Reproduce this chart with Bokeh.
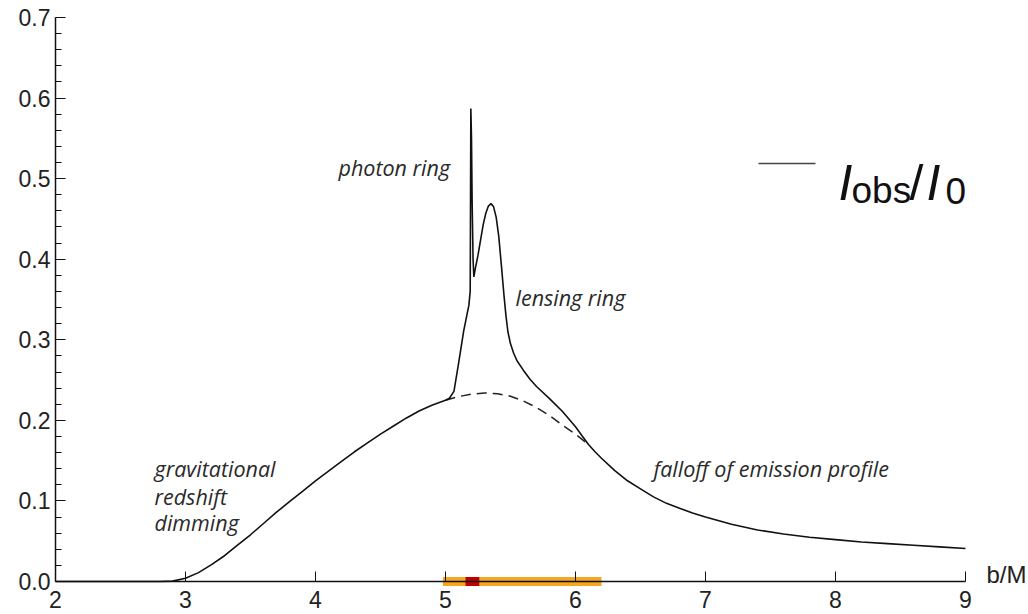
from bokeh.plotting import figure
from bokeh.models import FixedTicker, PrintfTickFormatter, Label
from bokeh.embed import file_html
from bokeh.resources import INLINE

# ---- data ----
b_solid = [2.0, 2.8, 2.9, 3.0, 3.1, 3.2, 3.3, 3.4, 3.5, 3.6, 3.7, 3.8, 3.9, 4.0,
           4.1, 4.2, 4.3, 4.4, 4.5, 4.6, 4.7, 4.8, 4.9, 5.0, 5.03, 5.065, 5.10,
           5.14, 5.18, 5.19, 5.195, 5.20, 5.205, 5.212, 5.218, 5.23, 5.25,
           5.27, 5.29, 5.31, 5.33, 5.35, 5.37, 5.39, 5.41, 5.43, 5.45, 5.465,
           5.48, 5.50, 5.525, 5.55, 5.60, 5.65, 5.70, 5.80, 5.90, 6.00, 6.05,
           6.10, 6.15, 6.2, 6.3, 6.4, 6.5, 6.6, 6.7, 6.8, 6.9, 7.0, 7.2, 7.4,
           7.6, 7.8, 8.0, 8.2, 8.4, 8.6, 8.8, 9.0]
I_solid = [0.0, 0.0, 0.0005, 0.004, 0.011, 0.021, 0.032, 0.045, 0.058, 0.072,
           0.086, 0.099, 0.112, 0.125, 0.137, 0.149, 0.161, 0.172, 0.183, 0.193,
           0.203, 0.212, 0.219, 0.225, 0.2275, 0.236, 0.270, 0.311, 0.343,
           0.36, 0.587, 0.55, 0.47, 0.40, 0.378, 0.389, 0.405, 0.424, 0.443,
           0.457, 0.466, 0.469, 0.465, 0.452, 0.428, 0.392, 0.355, 0.330,
           0.310, 0.295, 0.283, 0.274, 0.262, 0.251, 0.242, 0.227, 0.211, 0.192,
           0.181, 0.170, 0.161, 0.153, 0.138, 0.125, 0.115, 0.105, 0.097, 0.091,
           0.085, 0.080, 0.071, 0.064, 0.059, 0.055, 0.052, 0.049, 0.047, 0.045,
           0.043, 0.041]

b_dashed = [5.0, 5.1, 5.2, 5.3, 5.4, 5.5, 5.6, 5.7, 5.8, 5.9, 6.0, 6.1]
I_dashed = [0.225, 0.2295, 0.2325, 0.234, 0.233, 0.230, 0.224, 0.216, 0.206,
            0.194, 0.183, 0.170]

band_range = [4.98, 6.20]      # orange band on the b axis
mark_range = [5.154, 5.26]     # red marker on the b axis

x_ticks = [2, 3, 4, 5, 6, 7, 8, 9]
y_ticks = [0.0, 0.1, 0.2, 0.3, 0.4, 0.5, 0.6, 0.7]
y_minor = [round(0.02 * i, 2) for i in range(36)]

# ---- figure: the frame covers the whole canvas, axes sit at b=2 and I=0 ----
PX_X = 130.0     # pixels per unit b
PX_Y = 805.7     # pixels per unit I
X0, Y0 = 55, 581  # pixel position of (b=2, I=0)
p = figure(width=1028, height=614, output_backend="svg", toolbar_location=None,
           x_range=(2 - X0 / PX_X, 2 + (1028 - X0) / PX_X),
           y_range=(-(614 - Y0) / PX_Y, Y0 / PX_Y),
           min_border_left=0, min_border_right=0, min_border_top=0,
           min_border_bottom=0)
p.outline_line_color = None
p.grid.visible = False
p.background_fill_color = "white"
p.border_fill_color = "white"

TICK_FONT = "Liberation Sans"
xa = p.xaxis[0]
xa.fixed_location = 0
xa.bounds = (2, 9)
xa.ticker = FixedTicker(ticks=x_ticks, minor_ticks=[])
xa.major_tick_in = 10
xa.major_tick_out = 0
xa.minor_tick_in = 0
xa.minor_tick_out = 0
xa.axis_line_width = 1.5
xa.axis_line_color = "#111111"
xa.major_tick_line_color = "#111111"
xa.major_label_text_font = TICK_FONT
xa.major_label_text_font_size = "23px"
xa.major_label_text_color = "#222222"
xa.major_label_standoff = 9

ya = p.yaxis[0]
ya.fixed_location = 2
ya.bounds = (0, 0.7)
ya.ticker = FixedTicker(ticks=y_ticks, minor_ticks=y_minor)
ya.formatter = PrintfTickFormatter(format="%.1f")
ya.major_tick_in = 10
ya.major_tick_out = 0
ya.minor_tick_in = 6
ya.minor_tick_out = 0
ya.axis_line_width = 1.5
ya.axis_line_color = "#111111"
ya.major_tick_line_color = "#111111"
ya.minor_tick_line_color = "#111111"
ya.major_label_text_font = TICK_FONT
ya.major_label_text_font_size = "23px"
ya.major_label_text_color = "#222222"
ya.major_label_standoff = 5

# band on the axis
p.segment(x0=[band_range[0]], y0=[0], x1=[band_range[1]], y1=[0],
          line_color="#F5A623", line_width=9, line_cap="butt")
p.segment(x0=[mark_range[0]], y0=[0], x1=[mark_range[1]], y1=[0],
          line_color="#C00000", line_width=9, line_cap="butt")

# curves
p.line(b_dashed, I_dashed, line_color="#222222", line_width=1.5, line_dash="10 6")
p.line(b_solid, I_solid, line_color="#111111", line_width=1.6)


def px2b(px):
    return (px - X0) / PX_X + 2


def py2i(py):
    return (Y0 - py) / PX_Y


# annotations
ANN = dict(text_font="Open Sans", text_font_style="italic", text_font_size="21.5px",
           text_color="#2a2a2a", text_baseline="alphabetic")
p.add_layout(Label(x=px2b(338), y=py2i(167), text="photon ring", **ANN))
p.add_layout(Label(x=px2b(515), y=py2i(297), text="lensing ring", **ANN))
p.add_layout(Label(x=px2b(154), y=py2i(468), text="gravitational", **ANN))
p.add_layout(Label(x=px2b(154), y=py2i(496), text="redshift", **ANN))
p.add_layout(Label(x=px2b(154), y=py2i(522), text="dimming", **ANN))
p.add_layout(Label(x=px2b(653), y=py2i(468), text="falloff of emission profile", **ANN))

# axis name at the right end
p.add_layout(Label(x=px2b(986), y=py2i(587), text="b/M", text_font=TICK_FONT,
                   text_font_size="24px", text_color="#222222"))

# legend: sample line + I_obs/I_0
p.segment(x0=[px2b(758)], y0=[py2i(163)], x1=[px2b(815)], y1=[py2i(163)],
          line_color="#444444", line_width=1.6)
LEG = dict(text_font="Liberation Sans", text_color="#111111", text_baseline="alphabetic")
p.add_layout(Label(x=px2b(838), y=py2i(182), text="I", text_font_style="italic",
                   text_font_size="50px", **LEG))
p.add_layout(Label(x=px2b(851), y=py2i(190), text="obs", text_font_size="37px", **LEG))
p.add_layout(Label(x=px2b(909), y=py2i(182), text="/", text_font_size="50px", **LEG))
p.add_layout(Label(x=px2b(926), y=py2i(182), text="I", text_font_style="italic",
                   text_font_size="50px", **LEG))
p.add_layout(Label(x=px2b(945), y=py2i(190), text="0", text_font_size="37px", **LEG))

open("out.html", "w").write(file_html(p, INLINE))
